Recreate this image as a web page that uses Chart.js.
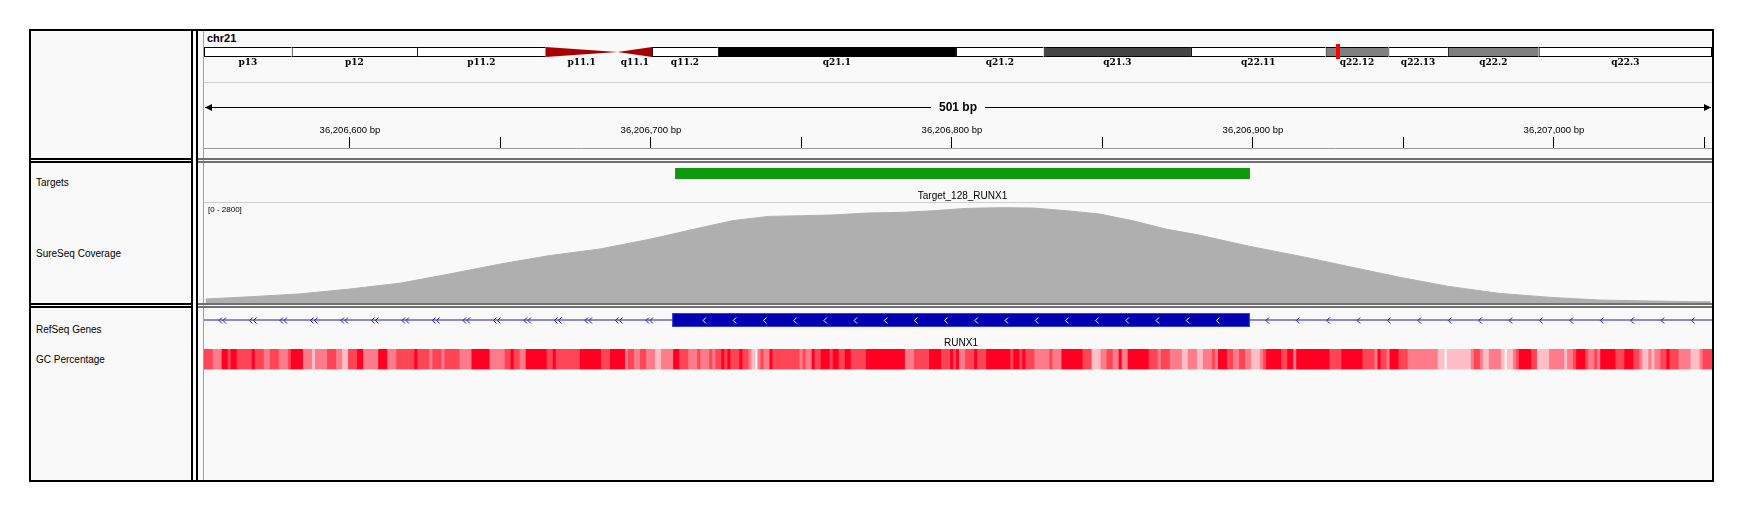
<!DOCTYPE html>
<html>
<head>
<meta charset="utf-8">
<script src="https://cdn.jsdelivr.net/npm/chart.js@4.4.0/dist/chart.umd.min.js"></script>
<style>
  body { margin: 0; background: #fff; }
  #page { position: relative; width: 1751px; height: 515px; background: #fff; overflow: hidden;
          font-family: "Liberation Sans", Arial, sans-serif; color: #000; }
  .ln { position: absolute; }
  .name { position: absolute; left: 36px; font-size: 10px; line-height: 12px; white-space: nowrap; }
  canvas { position: absolute; }
</style>
</head>
<body>
<div id="page">
  <!-- frame -->
  <div class="ln" style="left:29px;top:29px;width:1685px;height:453px;border:2px solid #000;box-sizing:border-box;background:#f9f9f9"></div>
  <div class="ln" style="left:191px;top:31px;width:2px;height:449px;background:#000"></div>
  <div class="ln" style="left:196px;top:31px;width:2px;height:449px;background:#000"></div>
  <div class="ln" style="left:203px;top:31px;width:1px;height:449px;background:#a0a0a0"></div>
  <div class="ln" style="left:204px;top:82px;width:1508px;height:1px;background:#d4d4d4"></div>
  <div class="ln" style="left:204px;top:202px;width:1508px;height:1px;background:#cfcfcf"></div>
  <!-- separators -->
  <div class="ln" style="left:31px;top:158px;width:160px;height:2px;background:#000"></div>
  <div class="ln" style="left:31px;top:161px;width:160px;height:2px;background:#000"></div>
  <div class="ln" style="left:198px;top:158px;width:1514px;height:2px;background:#707070"></div>
  <div class="ln" style="left:198px;top:161px;width:1514px;height:2px;background:#707070"></div>
  <div class="ln" style="left:31px;top:303px;width:160px;height:2px;background:#000"></div>
  <div class="ln" style="left:31px;top:306px;width:160px;height:2px;background:#000"></div>
  <div class="ln" style="left:198px;top:303px;width:1514px;height:2px;background:#707070"></div>
  <div class="ln" style="left:198px;top:306px;width:1514px;height:2px;background:#707070"></div>

  <!-- names -->
  <div class="name" style="left:207px;top:32px;font-weight:bold;font-size:11px">chr21</div>
  <div class="name" style="top:177px">Targets</div>
  <div class="name" style="top:248px">SureSeq Coverage</div>
  <div class="name" style="top:324px">RefSeq Genes</div>
  <div class="name" style="top:354px">GC Percentage</div>

  <canvas id="ideo" width="1508" height="32" style="left:204px;top:40px;width:1508px;height:32px"></canvas>
  <canvas id="ruler" width="1508" height="74" style="left:204px;top:84px;width:1508px;height:74px"></canvas>
  <canvas id="targets" width="1508" height="39" style="left:204px;top:163px;width:1508px;height:39px"></canvas>
  <canvas id="coverage" width="1508" height="100" style="left:204px;top:203px;width:1508px;height:100px"></canvas>
  <canvas id="genes" width="1508" height="40" style="left:204px;top:309px;width:1508px;height:40px"></canvas>
  <canvas id="gc" width="1508" height="21" style="left:204px;top:349px;width:1508px;height:21px"></canvas>
</div>

<script>
// vista actual
const viewStart = 36206551.5;
const viewEnd = 36207052.5;

// ideograma chr21
const chromLength = 48129895;
const bandNames  = ['p13', 'p12', 'p11.2', 'p11.1', 'q11.1', 'q11.2', 'q21.1', 'q21.2', 'q21.3', 'q22.11', 'q22.12', 'q22.13', 'q22.2', 'q22.3'];
const bandStarts = [0, 2800000, 6800000, 10900000, 13200000, 14300000, 16400000, 24000000, 26800000, 31500000, 35800000, 37800000, 39700000, 42600000];
const bandEnds   = [2800000, 6800000, 10900000, 13200000, 14300000, 16400000, 24000000, 26800000, 31500000, 35800000, 37800000, 39700000, 42600000, 48129895];
const bandStains = ['gvar', 'stalk', 'gvar', 'acen', 'acen', 'gneg', 'gpos100', 'gneg', 'gpos75', 'gneg', 'gpos50', 'gneg', 'gpos50', 'gneg'];
const stainColors = { gneg: '#ffffff', gvar: '#ffffff', stalk: '#ffffff', gpos50: '#808080', gpos75: '#444444', gpos100: '#000000', acen: '#a80000' };

// regla
const rulerTicks = [36206600, 36206650, 36206700, 36206750, 36206800, 36206850, 36206900, 36206950, 36207000, 36207050];

// targets
const targetNames  = ['Target_128_RUNX1'];
const targetStarts = [36206708];
const targetEnds   = [36206899];

// cobertura
const coverageMax = 2800;
const covPos = [36206552, 36206567, 36206583, 36206600, 36206617, 36206633, 36206650, 36206666, 36206683, 36206700,
                36206716, 36206727, 36206739, 36206750, 36206760, 36206772, 36206783, 36206794, 36206805, 36206816,
                36206827, 36206838, 36206849, 36206860, 36206871, 36206882, 36206899, 36206916, 36206932, 36206949,
                36206965, 36206982, 36206999, 36207015, 36207032, 36207048, 36207052];
const covVal = [112, 176, 252, 392, 560, 812, 1092, 1324, 1512, 1792,
                2100, 2305, 2425, 2445, 2464, 2520, 2537, 2585, 2650, 2669,
                2660, 2585, 2492, 2305, 2072, 1904, 1585, 1305, 1017, 717,
                465, 269, 157, 84, 56, 36, 36];

// RefSeq
const geneName = 'RUNX1';
const geneTxStart = 36160098;
const geneTxEnd = 37376965;
const exonStarts = [36206707];
const exonEnds   = [36206899];

// GC (largo en bp, nivel 0-4)
const gcRunLength = [3,3,2,1,2,5,1,3,2,3,3,1,4,3,1,4,3,2,2,3,2,5,3,3,6,1,4,1,3,1,5,4,6,5,2,1,2,2,7,2,1,8,7,3,5,1,2,2,2,3,2,4,2,3,3,1,3,
  1,1,2,1,1,1,3,1,2,1,1,1,1,1,2,1,9,1,1,2,1,2,3,1,2,2,2,5,13,3,5,4,3,1,1,1,2,3,1,3,8,1,2,1,1,3,5,1,3,7,3,3,2,2,2,1,2,7,3,1,3,4,2,3,2,3,
  1,1,3,2,2,2,2,3,1,1,5,2,2,1,11,4,7,4,1,1,2,1,3,3,10,2,1,8,1,2,1,2,4,1,1,2,1,1,4,2,4,5,1,2,1,3,1,2,1,1,5,3,3,2,1,2,1,1,2,2,1,3,4,3,1,3];
const gcRunLevel  = [3,2,4,3,4,3,4,3,2,3,2,3,4,2,1,2,3,2,1,3,4,2,4,2,3,4,3,2,3,2,3,2,4,2,3,4,3,2,4,3,4,3,4,3,4,2,3,2,3,2,1,2,4,3,2,3,2,
  3,2,3,4,3,4,3,4,3,2,1,0,2,3,2,4,3,2,3,2,4,3,4,3,4,3,4,3,4,2,3,4,3,4,3,4,2,3,4,3,4,3,4,3,4,3,2,3,2,4,3,1,2,3,2,4,2,4,3,2,3,2,1,2,1,2,
  3,2,4,3,2,3,2,1,2,3,4,3,4,2,4,3,4,3,2,4,3,2,4,3,2,1,0,1,2,3,2,1,2,1,0,1,2,3,4,3,1,2,1,2,3,4,3,2,3,2,4,3,4,3,2,1,2,1,2,3,4,3,2,1,2,3];
const gcColors = ['rgba(0,0,0,0)', '#ffbdc5', '#ff7b89', '#ff4456', '#ff0022'];

Chart.defaults.font.family = '"Liberation Sans", Arial, sans-serif';

// grafico base para pistas de barras horizontales
// c = pixel (desde arriba) donde queda el valor 0
function crearPista(id, datasets, c, xMin, xMax, plugin) {
  const h = document.getElementById(id).height;
  return new Chart(document.getElementById(id), {
    type: 'bar',
    data: { datasets: datasets },
    options: {
      indexAxis: 'y',
      responsive: false,
      animation: false,
      devicePixelRatio: 1,
      events: [],
      layout: { padding: 0 },
      plugins: { legend: { display: false }, tooltip: { enabled: false } },
      scales: {
        x: { type: 'linear', min: xMin, max: xMax, display: false },
        y: { type: 'linear', min: -(h - c), max: c, display: false, offset: false }
      }
    },
    plugins: plugin ? [plugin] : []
  });
}

function chevron(ctx, x, y, w, hh) {
  ctx.beginPath();
  ctx.moveTo(x + w, y - hh);
  ctx.lineTo(x, y);
  ctx.lineTo(x + w, y + hh);
  ctx.stroke();
}

// ---------- ideograma ----------
const ideoIdx = bandNames.map((n, i) => i).filter(i => bandStains[i] !== 'acen');
const ideoPlugin = {
  id: 'ideoExtras',
  afterDatasetsDraw(chart) {
    const { ctx, scales: { x, y } } = chart;
    const cy = y.getPixelForValue(0);
    ctx.save();
    ctx.font = 'bold 9px "DejaVu Serif"';
    ctx.textAlign = 'center';
    ctx.textBaseline = 'middle';
    bandNames.forEach((name, i) => {
      const x0 = x.getPixelForValue(bandStarts[i]);
      const x1 = x.getPixelForValue(bandEnds[i]);
      if (bandStains[i] === 'acen') {
        ctx.fillStyle = stainColors.acen;
        ctx.beginPath();
        if (name[0] === 'p') { ctx.moveTo(x0, cy - 5); ctx.lineTo(x1, cy); ctx.lineTo(x0, cy + 5); }
        else { ctx.moveTo(x1, cy - 5); ctx.lineTo(x0, cy); ctx.lineTo(x1, cy + 5); }
        ctx.closePath();
        ctx.fill();
      }
      ctx.fillStyle = '#000';
      ctx.fillText(name, (x0 + x1) / 2, cy + 11);
    });
    // marca de la vista actual
    const mx = x.getPixelForValue((viewStart + viewEnd) / 2);
    ctx.fillStyle = '#ff0000';
    ctx.fillRect(Math.round(mx) - 2, cy - 8, 4, 15);
    ctx.restore();
  }
};
crearPista('ideo', [{
  data: ideoIdx.map(i => ({ x: [bandStarts[i], bandEnds[i]], y: 0 })),
  backgroundColor: ideoIdx.map(i => stainColors[bandStains[i]]),
  borderColor: '#000',
  borderWidth: (ctx) => ({ left: 1, top: 1, bottom: 1, right: ctx.dataIndex === ideoIdx.length - 1 ? 1 : 0 }),
  borderSkipped: false,
  barThickness: 10,
  grouped: false,
  inflateAmount: 0
}], 12, 0, chromLength, ideoPlugin);

// ---------- regla ----------
const rulerPlugin = {
  id: 'rulerSpan',
  afterDraw(chart) {
    const { ctx, scales: { x } } = chart;
    const y = 23;
    const x0 = x.getPixelForValue(viewStart) + 1;
    const x1 = x.getPixelForValue(viewEnd) - 1;
    const label = Math.round(viewEnd - viewStart) + ' bp';
    ctx.save();
    ctx.font = 'bold 12px "Liberation Sans"';
    const tw = ctx.measureText(label).width;
    const xm = (x0 + x1) / 2;
    ctx.strokeStyle = '#000';
    ctx.lineWidth = 1;
    ctx.beginPath();
    ctx.moveTo(x0, y + 0.5); ctx.lineTo(xm - tw / 2 - 8, y + 0.5);
    ctx.moveTo(xm + tw / 2 + 8, y + 0.5); ctx.lineTo(x1, y + 0.5);
    ctx.stroke();
    ctx.fillStyle = '#000';
    ctx.beginPath();
    ctx.moveTo(x0, y + 0.5); ctx.lineTo(x0 + 7, y - 3); ctx.lineTo(x0 + 7, y + 4); ctx.closePath(); ctx.fill();
    ctx.beginPath();
    ctx.moveTo(x1, y + 0.5); ctx.lineTo(x1 - 7, y - 3); ctx.lineTo(x1 - 7, y + 4); ctx.closePath(); ctx.fill();
    ctx.textAlign = 'center';
    ctx.textBaseline = 'middle';
    ctx.fillText(label, xm, y + 1);
    ctx.restore();
  }
};
new Chart(document.getElementById('ruler'), {
  type: 'line',
  data: { datasets: [] },
  options: {
    responsive: false,
    animation: false,
    devicePixelRatio: 1,
    events: [],
    layout: { padding: 0 },
    plugins: { legend: { display: false }, tooltip: { enabled: false } },
    scales: {
      x: {
        type: 'linear', position: 'top', min: viewStart, max: viewEnd,
        afterBuildTicks: (s) => { s.ticks = rulerTicks.map(v => ({ value: v })); },
        afterFit: (s) => { s.height = 64; },
        ticks: {
          autoSkip: false, maxRotation: 0, padding: 1, color: '#000',
          font: { size: 9.5 },
          callback: (v) => v % 100 === 0 ? v.toLocaleString('en-US') + ' bp' : ''
        },
        grid: { drawOnChartArea: false, drawTicks: true, tickLength: 11, color: '#000', lineWidth: 1 },
        border: { display: true, color: '#9a9a9a' }
      },
      y: { display: false }
    }
  },
  plugins: [rulerPlugin]
});

// ---------- targets ----------
const targetPlugin = {
  id: 'targetLabels',
  afterDatasetsDraw(chart) {
    const { ctx, scales: { x, y } } = chart;
    ctx.save();
    ctx.font = '10px "Liberation Sans"';
    ctx.fillStyle = '#000';
    ctx.textAlign = 'center';
    ctx.textBaseline = 'middle';
    targetNames.forEach((n, i) => {
      ctx.fillText(n, (x.getPixelForValue(targetStarts[i]) + x.getPixelForValue(targetEnds[i])) / 2, y.getPixelForValue(0) + 23);
    });
    ctx.restore();
  }
};
crearPista('targets', [{
  data: targetNames.map((n, i) => ({ x: [targetStarts[i], targetEnds[i]], y: 0 })),
  backgroundColor: '#0f990f',
  barThickness: 11,
  grouped: false,
  inflateAmount: 0
}], 10.5, viewStart, viewEnd, targetPlugin);

// ---------- cobertura ----------
const rangePlugin = {
  id: 'dataRange',
  afterDraw(chart) {
    const ctx = chart.ctx;
    ctx.save();
    ctx.font = '8px "Liberation Sans"';
    ctx.fillStyle = '#000';
    ctx.textBaseline = 'middle';
    ctx.fillText('[0 - ' + coverageMax + ']', 4, 7);
    ctx.restore();
  }
};
new Chart(document.getElementById('coverage'), {
  type: 'line',
  data: {
    datasets: [{
      data: covPos.map((p, i) => ({ x: p, y: covVal[i] })),
      borderColor: '#afafaf',
      backgroundColor: '#afafaf',
      borderWidth: 1,
      pointRadius: 0,
      tension: 0,
      fill: 'origin'
    }]
  },
  options: {
    responsive: false,
    animation: false,
    devicePixelRatio: 1,
    events: [],
    layout: { padding: 0 },
    plugins: { legend: { display: false }, tooltip: { enabled: false } },
    scales: {
      x: { type: 'linear', min: viewStart, max: viewEnd, display: false },
      y: { type: 'linear', min: 0, max: coverageMax, display: false }
    }
  },
  plugins: [rangePlugin]
});

// ---------- genes ----------
const genePlugin = {
  id: 'geneExtras',
  afterDatasetsDraw(chart) {
    const { ctx, chartArea, scales: { x, y } } = chart;
    const cy = Math.round(y.getPixelForValue(0)) + 0.5;
    const exL = x.getPixelForValue(exonStarts[0]);
    const exR = x.getPixelForValue(exonEnds[0]);
    ctx.save();
    ctx.lineWidth = 1;
    // flechas de la hebra (-) en el intron
    ctx.strokeStyle = '#1a1ab8';
    for (let px = chartArea.left + 15; px < exL - 3; px += 30.5) {
      chevron(ctx, px, cy, 3, 3);
      if (px + 10 < exL) chevron(ctx, px + 4, cy, 3, 3);
    }
    for (let px = exR + 16; px < chartArea.right - 4; px += 30.4) chevron(ctx, px, cy, 3, 3);
    // flechas dentro del exon
    ctx.strokeStyle = '#ffffff';
    for (let px = exL + 31; px < exR - 8; px += 30.2) chevron(ctx, px, cy, 3, 3);
    ctx.font = '10px "Liberation Sans"';
    ctx.fillStyle = '#000';
    ctx.textAlign = 'center';
    ctx.textBaseline = 'middle';
    ctx.fillText(geneName, (exL + exR) / 2, cy + 23);
    ctx.restore();
  }
};
crearPista('genes', [{
  data: exonStarts.map((s, i) => ({ x: [s, exonEnds[i]], y: 0 })),
  backgroundColor: '#0000b2',
  borderColor: '#3c3cdc',
  borderWidth: 1,
  borderSkipped: false,
  barThickness: 14,
  grouped: false,
  inflateAmount: 0
}, {
  data: [{ x: [geneTxStart, geneTxEnd], y: 0 }],
  backgroundColor: '#1a1ab8',
  barThickness: 1,
  grouped: false,
  inflateAmount: 0
}], 11, viewStart, viewEnd, genePlugin);

// ---------- GC ----------
const gcData = [];
let pos = viewStart;
gcRunLength.forEach((len) => {
  gcData.push({ x: [pos, pos + len], y: 0 });
  pos += len;
});
crearPista('gc', [{
  data: gcData,
  backgroundColor: gcRunLevel.map(l => gcColors[l]),
  barThickness: 20,
  grouped: false,
  inflateAmount: 0.4
}], 10, viewStart, viewEnd);
</script>
</body>
</html>
